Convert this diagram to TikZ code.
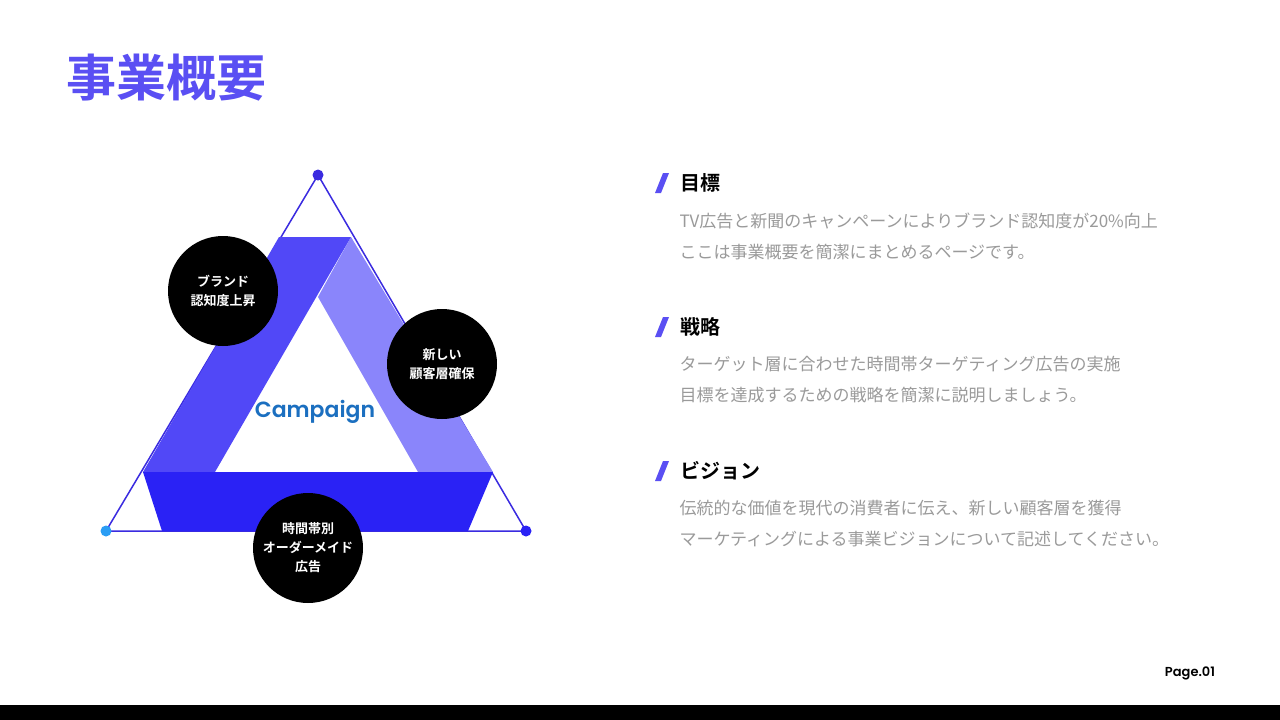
\documentclass[tikz,border=0pt]{standalone}
\usepackage{fontspec}
\newfontfamily\jp{Noto Sans CJK JP}
\newfontfamily\jpb{Noto Sans CJK JP Bold}
\newfontfamily\pop{Poppins SemiBold}
\definecolor{accent}{HTML}{5A4FF3}
\definecolor{bandA}{HTML}{5148F7}
\definecolor{bandB}{HTML}{8A85FB}
\definecolor{bandC}{HTML}{2A22F5}
\definecolor{edge}{HTML}{3A2BE0}
\definecolor{body}{HTML}{9A9A9A}
\definecolor{camp}{HTML}{1B6FC0}
\tikzset{
 badge/.style={circle,fill=black,minimum size=110pt,inner sep=0,text=white,font=\jpb\fontsize{13}{19}\selectfont,align=center},
 head/.style={anchor=west,font=\jpb\fontsize{20}{24}\selectfont},
 bodytxt/.style={anchor=west,text=body,font=\jp\fontsize{17}{31}\selectfont,align=left},
 dot/.style={circle,inner sep=0,minimum size=11pt}
}
\begin{document}
\begin{tikzpicture}[x=1pt,y=-1pt]
\useasboundingbox (0,0) rectangle (1280,720);
\fill[white] (0,0) rectangle (1280,720);
\fill[black] (0,705) rectangle (1280,720);
\node[anchor=west,text=accent,font=\jpb\fontsize{50}{50}\selectfont] (title) at (63,78) {事業概要};
% triangle
\coordinate (T) at (318,175);
\coordinate (L) at (106,531);
\coordinate (R) at (526,531);
\draw[edge,line width=1.5pt] (T) -- (L) -- (R) -- cycle;
\fill[bandB] (351,237) -- (493,472) -- (418,472) -- (318,297) -- cycle;
\fill[bandA] (279,237) -- (351,237) -- (215,472) -- (143,472) -- cycle;
\fill[bandC] (143,472) -- (493,472) -- (468,531) -- (162,531) -- cycle;
\node[dot,fill=edge] (dT) at (T) {};
\node[dot,fill={rgb,255:red,42;green,157;blue,244}] (dL) at (L) {};
\node[dot,fill=bandC] (dR) at (R) {};
\node[text=camp,font=\pop\fontsize{22}{22}\selectfont] (camp) at (315,412) {Campaign};
\node[badge] (c1) at (223,291) {ブランド\\認知度上昇};
\node[badge] (c2) at (442,364) {新しい\\顧客層確保};
\node[badge] (c3) at (308,548) {時間帯別\\オーダーメイド\\広告};
% sections
\foreach \y/\h/\a/\b [count=\i] in {183/目標/TV広告と新聞のキャンペーンによりブランド認知度が20\%向上/ここは事業概要を簡潔にまとめるページです。,
 327/戦略/ターゲット層に合わせた時間帯ターゲティング広告の実施/目標を達成するための戦略を簡潔に説明しましょう。,
 471/ビジョン/伝統的な価値を現代の消費者に伝え、新しい顧客層を獲得/マーケティングによる事業ビジョンについて記述してください。}{
 \fill[accent] (655,\y+10) -- (661,\y+10) -- (669,\y-10) -- (663,\y-10) -- cycle;
 \node[head] (h\i) at (677,\y) {\h};
 \node[bodytxt] (b\i) at (676,\y+53) {\a\\\b};
}
\node[font=\pop\fontsize{13}{13}\selectfont] (page) at (1190,673) {Page.01};
\end{tikzpicture}
\end{document}
